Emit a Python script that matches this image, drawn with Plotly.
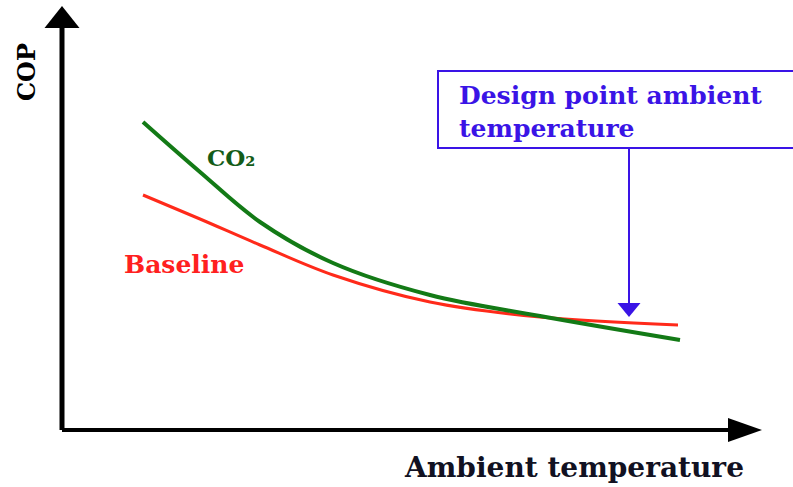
import plotly.graph_objects as go

# Qualitative COP vs ambient temperature curves (arbitrary units)
co2_temp = [8.1, 13.8, 19.8, 27.1, 36.8, 47.8, 61.8]
co2_cop = [3.08, 2.58, 2.08, 1.67, 1.35, 1.14, 0.90]

base_temp = [8.1, 13.8, 19.8, 27.1, 36.8, 47.8, 61.6]
base_cop = [2.35, 2.11, 1.85, 1.55, 1.28, 1.13, 1.05]

design_temp = 56.7
design_cop = 1.13

x_title = "Ambient temperature"
y_title = "COP"
co2_label = "CO₂"
base_label = "Baseline"
design_label = "Design point ambient<br>temperature"

serif = "DejaVu Serif"
blue = "#3a14e6"

# plot-area geometry in pixels, used to place paper-referenced texts
L, R, T, B, W, H = 32, 28, 2, 27, 793, 487
PW, PH = W - L - R, H - T - B


def px(x):
    return (x - L) / PW


def py(y):
    return (H - B - y) / PH


fig = go.Figure()
fig.add_trace(go.Scatter(x=base_temp, y=base_cop, mode="lines", line_shape="spline",
                         line=dict(color="#ff2a1a", width=3), name=base_label))
fig.add_trace(go.Scatter(x=co2_temp, y=co2_cop, mode="lines", line_shape="spline",
                         line=dict(color="#137a16", width=4), name=co2_label))

shapes = [
    # vertical axis with arrowhead
    dict(type="line", x0=0, y0=0, x1=0, y1=4.02, line=dict(color="black", width=5)),
    dict(type="path", path="M -1.75,4.02 L 1.75,4.02 L 0,4.24 Z",
         fillcolor="black", line=dict(color="black", width=0)),
    # horizontal axis with arrowhead
    dict(type="line", x0=0, y0=0, x1=66.8, y1=0, line=dict(color="black", width=4)),
    dict(type="path", path="M 66.6,0.12 L 66.6,-0.12 L 70,0 Z",
         fillcolor="black", line=dict(color="black", width=0)),
    # design point callout box
    dict(type="rect", xref="paper", yref="paper", x0=px(438), x1=1.2, y0=py(148), y1=py(71),
         line=dict(color=blue, width=2), fillcolor="rgba(0,0,0,0)"),
    # pointer from box down to the design point
    dict(type="line", x0=design_temp, y0=2.82, x1=design_temp, y1=design_cop + 0.12,
         line=dict(color=blue, width=2)),
    dict(type="path",
         path=f"M {design_temp - 1.15},{design_cop + 0.14} L {design_temp + 1.15},{design_cop + 0.14} "
              f"L {design_temp},{design_cop} Z",
         fillcolor=blue, line=dict(color=blue, width=0)),
]

annotations = [
    dict(xref="paper", yref="paper", x=px(26), y=py(72), text=f"<b>{y_title}</b>",
         textangle=-90, showarrow=False, xanchor="center", yanchor="middle",
         font=dict(family=serif, size=24, color="black")),
    dict(xref="paper", yref="paper", x=px(574), y=py(467), text=f"<b>{x_title}</b>",
         showarrow=False, xanchor="center", yanchor="middle",
         font=dict(family=serif, size=28, color="#111122")),
    dict(x=14.3, y=2.73, text=f"<b>{co2_label}</b>", showarrow=False, xanchor="left",
         font=dict(family=serif, size=23, color="#145c18")),
    dict(x=6.0, y=1.66, text=f"<b>{base_label}</b>", showarrow=False, xanchor="left",
         font=dict(family=serif, size=25, color="#ff2020")),
    dict(xref="paper", yref="paper", x=px(457), y=py(112),
         text=f"<b>{design_label}</b>", showarrow=False, xanchor="left", yanchor="middle",
         align="left", font=dict(family=serif, size=25, color=blue)),
]

fig.update_layout(
    width=W, height=H,
    margin=dict(l=L, r=R, t=T, b=B),
    paper_bgcolor="white", plot_bgcolor="white",
    showlegend=False,
    xaxis=dict(range=[-3, 70.3], visible=False, fixedrange=True),
    yaxis=dict(range=[-0.30, 4.28], visible=False, fixedrange=True),
    shapes=shapes,
    annotations=annotations,
)

fig.write_html("out.html")
